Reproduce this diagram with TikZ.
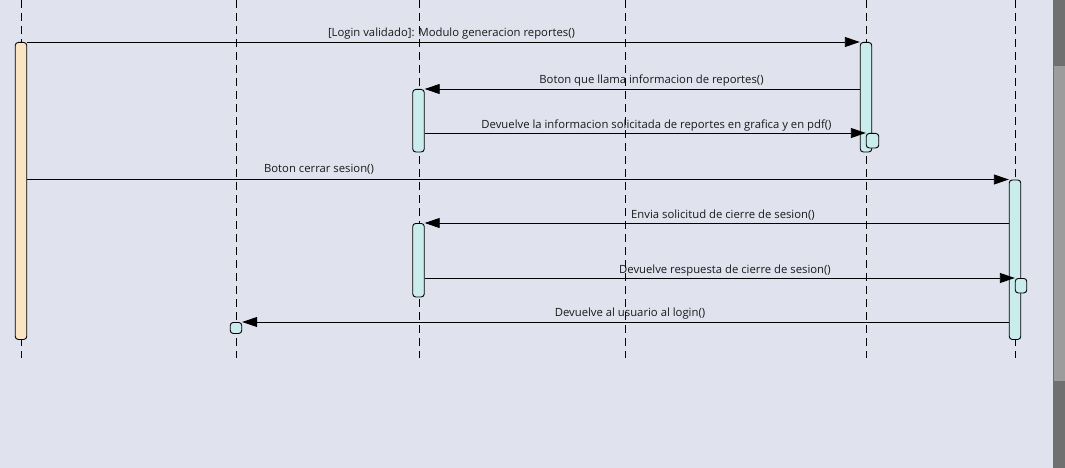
\documentclass[tikz,border=0pt]{standalone}
\usepackage{fontspec}
\setmainfont{Open Sans}
\usetikzlibrary{arrows.meta}
\definecolor{fondo}{RGB}{224,227,237}
\definecolor{naranja}{RGB}{250,228,196}
\definecolor{cian}{RGB}{202,236,237}
\definecolor{barraosc}{RGB}{112,112,112}
\definecolor{barracla}{RGB}{156,156,156}
\begin{document}
\begin{tikzpicture}[x=1pt,y=-1pt,
  linea/.style={dash pattern=on 8pt off 5pt, line width=0.9pt},
  activa/.style={draw, line width=0.9pt, rounded corners=3pt, fill=cian, minimum width=11.5pt, inner sep=0pt, anchor=north},
  mensaje/.style={-{Triangle[length=15pt,width=10pt]}, line width=0.9pt},
  etiqueta/.style={anchor=base, inner sep=0pt, text=black!90, font=\fontsize{11.3}{13}\selectfont}]

  \useasboundingbox (0,0) rectangle (1065,468);
  \fill[fondo] (0,0) rectangle (1053,468);
  \fill[barraosc] (1053,0) rectangle (1065,468);
  \fill[barracla] (1054,66) rectangle (1065,381);

  \foreach \x/\n in {21/1,236/2,419/3,625/4,866/5,1015/6}{
    \coordinate (arriba\n) at (\x,0);
    \coordinate (abajo\n) at (\x,358);
    \draw[linea] (arriba\n)--(abajo\n);
  }

  \node[activa, fill=naranja, minimum height=297pt] at (21,42) (act1) {};
  \node[activa, minimum height=109.5pt] at (866,42) (act5) {};
  \node[activa, minimum height=14.5pt, minimum width=12.5pt] at (872.5,133) (sub5) {};
  \node[activa, minimum height=62.5pt] at (418.5,89) (act3a) {};
  \node[activa, minimum height=73.5pt] at (418.5,223) (act3b) {};
  \node[activa, minimum height=159.5pt] at (1015,179.5) (act6) {};
  \node[activa, minimum height=14.5pt] at (1021,278) (sub6) {};
  \node[activa, minimum height=11pt] at (236,322) (act2) {};

  \draw[mensaje] (act1.north east)--(act5.north west);
  \draw[mensaje] (act3a.north east -| act5.west)--(act3a.north east);
  \draw[mensaje] (sub5.north west -| act3a.east)--(sub5.north west);
  \draw[mensaje] (act6.north west -| act1.east)--(act6.north west);
  \draw[mensaje] (act3b.north east -| act6.west)--(act3b.north east);
  \draw[mensaje] (sub6.north west -| act3b.east)--(sub6.north west);
  \draw[mensaje] (act2.north east -| act6.west)--(act2.north east);

  \node[etiqueta] at (451.5,37) (m1) {[Login validado]: Modulo generacion reportes()};
  \node[etiqueta] at (651.5,84) (m2) {Boton que llama informacion de reportes()};
  \node[etiqueta] at (656.5,128.5) (m3) {Devuelve la informacion solicitada de reportes en grafica y en pdf()};
  \node[etiqueta] at (319,172.5) (m4) {Boton cerrar sesion()};
  \node[etiqueta] at (723,218) (m5) {Envia solicitud de cierre de sesion()};
  \node[etiqueta] at (725,273) (m6) {Devuelve respuesta de cierre de sesion()};
  \node[etiqueta] at (630,316) (m7) {Devuelve al usuario al login()};
\end{tikzpicture}
\end{document}
